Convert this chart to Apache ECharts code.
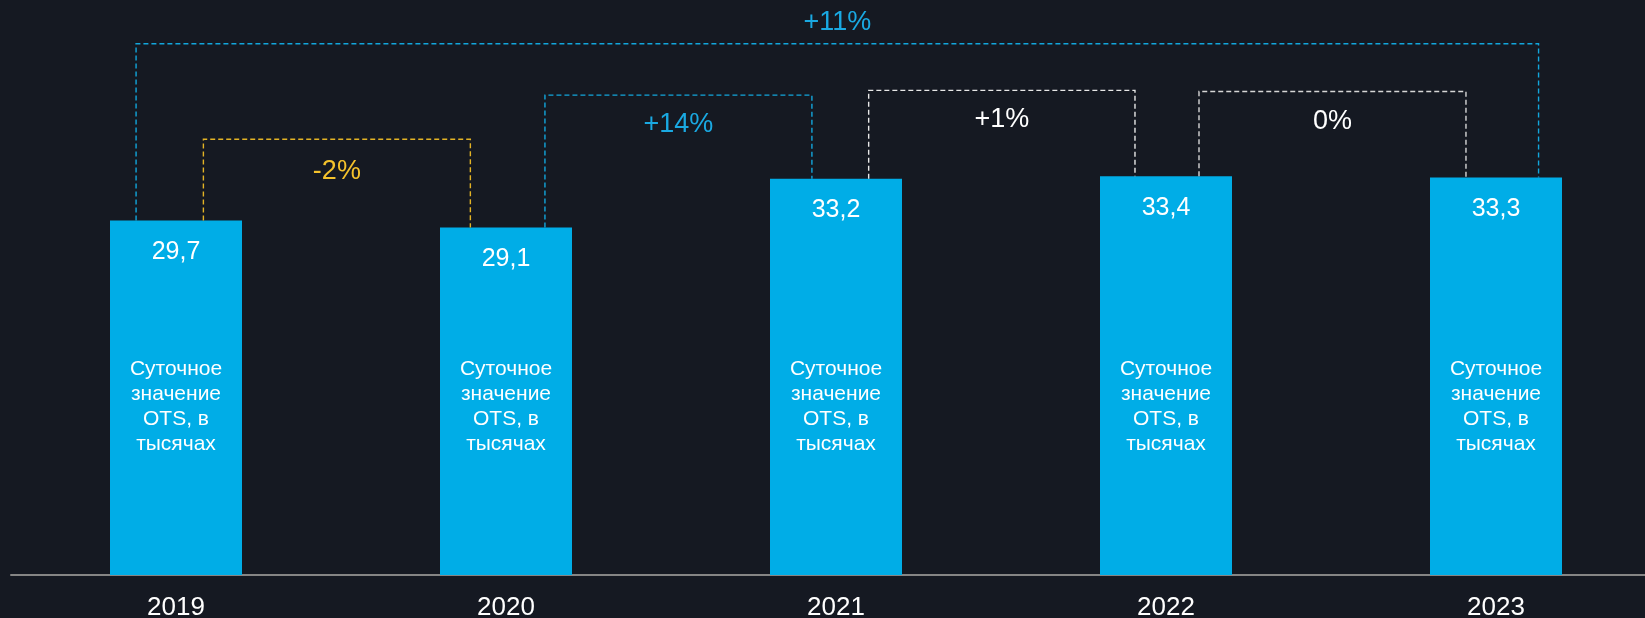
<!DOCTYPE html>
<html>
<head>
<meta charset="utf-8">
<script src="https://cdn.jsdelivr.net/npm/echarts@6/dist/echarts.min.js"></script>
<style>
html,body{margin:0;padding:0;background:#151922;}
#c{width:1645px;height:618px;}
</style>
</head>
<body>
<div id="c"></div>
<script>
// ---- data ----
const categories = ['2019', '2020', '2021', '2022', '2023'];
const values = [29.7, 29.1, 33.2, 33.4, 33.3];
const barCaption = 'Суточное\nзначение\nOTS, в\nтысячах';
const changeFrom = [0, 0, 1, 2, 3];
const changeTo = [4, 1, 2, 3, 4];
const changeLabels = ['+11%', '-2%', '+14%', '+1%', '0%'];
const changeLevels = [44.5, 36.5, 40.2, 40.6, 40.5];

// ---- styles ----
const FONT = '"Liberation Sans", Arial, sans-serif';
const bracketColors = ['#12a6dc', '#e3b325', '#12a6dc', '#e8e8e8', '#d6d6d6'];
const labelColors = ['#1aa9e2', '#f4c22c', '#1aa9e2', '#ffffff', '#ffffff'];
const offL = [-0.121, 0.083, 0.118, 0.099, 0.100];
const offR = [0.129, -0.108, -0.073, -0.094, -0.091];
const labelDy = [-21, 32, 29, 29, 30];

const chart = echarts.init(document.getElementById('c'), null, {renderer: 'canvas'});

function renderBracket(params, api) {
  const i = api.value(0);
  const band = api.size([1, 0])[0];
  const a = changeFrom[i], b = changeTo[i], lvl = changeLevels[i];
  const pTop1 = api.coord([a, lvl]);
  const pTop2 = api.coord([b, lvl]);
  const pA = api.coord([a, values[a]]);
  const pB = api.coord([b, values[b]]);
  const x1 = pTop1[0] + offL[i] * band;
  const x2 = pTop2[0] + offR[i] * band;
  const y = pTop1[1];
  const style = {stroke: bracketColors[i], lineWidth: 1.4, lineDash: [5, 3], fill: null};
  return {
    type: 'group',
    children: [
      {type: 'polyline', shape: {points: [[x1, pA[1]], [x1, y], [x2, y], [x2, pB[1]]]}, style: style},
      {type: 'text', x: (x1 + x2) / 2, y: y + labelDy[i],
        style: {text: changeLabels[i], fill: labelColors[i], font: '27px ' + FONT,
          align: 'center', verticalAlign: 'middle'}}
    ]
  };
}

const barData = values.map((v, i) => [i, v]);

chart.setOption({
  backgroundColor: '#151922',
  animation: false,
  grid: {left: 11, right: 0, top: 2, bottom: 43, containLabel: false, outerBoundsMode: 'none'},
  xAxis: {
    type: 'value',
    min: -0.5,
    max: -0.5 + 1634 / 330,
    splitLine: {show: false},
    axisLine: {show: true, onZero: false, lineStyle: {color: '#858585', width: 2}},
    axisTick: {show: false},
    axisLabel: {
      color: '#ffffff', fontSize: 26, fontFamily: FONT, margin: 20,
      customValues: [0, 1, 2, 3, 4],
      formatter: v => categories[Math.round(v)] || ''
    }
  },
  yAxis: {type: 'value', min: 0, max: 48, show: false, splitLine: {show: false}},
  series: [
    {
      type: 'bar',
      data: barData,
      barWidth: 132,
      itemStyle: {color: '#00ade7'},
      label: {
        show: true, position: 'insideTop', distance: 19,
        color: '#ffffff', fontSize: 25, fontFamily: FONT,
        formatter: p => String(p.value[1]).replace('.', ',')
      },
      z: 2
    },
    {
      type: 'bar',
      data: barData,
      barWidth: 132,
      barGap: '-100%',
      itemStyle: {color: 'rgba(0,0,0,0)'},
      label: {
        show: true, position: 'insideBottom', distance: 118,
        color: '#ffffff', fontSize: 21, lineHeight: 25, fontFamily: FONT,
        formatter: () => barCaption
      },
      z: 3
    },
    {
      type: 'custom',
      renderItem: renderBracket,
      data: changeLabels.map((_, i) => [i, 0]),
      encode: {x: 0, y: 1},
      z: 4
    }
  ]
});
</script>
</body>
</html>
